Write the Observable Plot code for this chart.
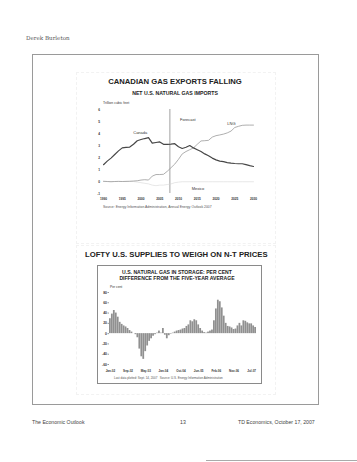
<!DOCTYPE html>
<html><head><meta charset="utf-8">
<script src="https://cdn.jsdelivr.net/npm/d3@7"></script>
<script src="https://cdn.jsdelivr.net/npm/@observablehq/plot@0.6"></script>
<style>
html,body{margin:0;padding:0;background:#fff;}
body{width:357px;height:462px;position:relative;overflow:hidden;font-family:"Liberation Sans",Arial,sans-serif;color:#222;}
.t{position:absolute;white-space:nowrap;line-height:1;}
.c{transform:translateX(-50%);}
.b{font-weight:bold;}
.box{position:absolute;box-sizing:border-box;}
.plot{position:absolute;}
</style></head><body>
<div class="t" style="left:26px;top:36px;font-family:'DejaVu Serif','Liberation Serif',serif;font-size:5.6px;color:#555;">Derek Burleton</div>
<div class="box" style="left:32px;top:54px;width:287px;height:351px;border:1px solid #9a9a9a;"></div>
<div class="box" style="left:76px;top:72px;width:200px;height:172px;border:1px dashed #f2f2f2;"></div>
<div class="box" style="left:76px;top:245px;width:200px;height:150px;border:1px dashed #f2f2f2;"></div>

<div class="t c b" style="left:175px;top:78px;font-size:7.7px;">CANADIAN GAS EXPORTS FALLING</div>
<div class="t c b" style="left:175px;top:91.4px;font-size:5.2px;">NET U.S. NATURAL GAS IMPORTS</div>
<div class="t" style="left:103px;top:102.3px;font-size:3.5px;color:#333;">Trillion cubic feet</div>
<div id="chart1" class="plot" style="left:80px;top:100px;"></div>
<div class="t" style="left:103px;top:206.3px;font-size:3.4px;color:#555;">Source: Energy Information Administration, Annual Energy Outlook 2007</div>

<div class="t b" style="left:85px;top:251px;font-size:7.7px;">LOFTY U.S. SUPPLIES TO WEIGH ON N-T PRICES</div>
<div class="box" style="left:97px;top:265px;width:165px;height:119px;border:1px solid #8a8a8a;"></div>
<div class="t c b" style="left:177px;top:269.5px;font-size:5.1px;">U.S. NATURAL GAS IN STORAGE: PER CENT</div>
<div class="t c b" style="left:177px;top:275.6px;font-size:5.1px;">DIFFERENCE FROM THE FIVE-YEAR AVERAGE</div>
<div class="t" style="left:110px;top:286.3px;font-size:3.3px;color:#333;">Per cent</div>
<div id="chart2" class="plot" style="left:95px;top:285px;"></div>
<div class="t" style="left:114px;top:376.5px;font-size:3px;color:#555;">Last data plotted: Sept. 14, 2007 &nbsp;&nbsp;Source: U.S. Energy Information Administration</div>

<div class="t" style="left:32px;top:420.4px;font-size:5.2px;color:#444;">The Economic Outlook</div>
<div class="t c" style="left:183px;top:420.4px;font-size:5.2px;color:#444;">13</div>
<div class="t" style="left:238px;top:420.4px;font-size:5.2px;color:#444;">TD Economics, October 17, 2007</div>
<div class="box" style="left:206px;top:460px;width:151px;height:1px;background:#aaa;"></div>

<script>
// ---- Chart 1: Net U.S. natural gas imports (trillion cubic feet) ----
const years = [1990,1991,1992,1993,1994,1995,1996,1997,1998,1999,2000,2001,2002,2003,2004,2005,2006,2007,2008,2009,2010,2011,2012,2013,2014,2015,2016,2017,2018,2019,2020,2021,2022,2023,2024,2025,2026,2027,2028,2029,2030];
const canada = [1.4,1.7,1.95,2.25,2.55,2.8,2.85,2.87,3.1,3.4,3.5,3.58,3.65,3.2,3.25,3.3,3.1,3.1,3.12,3.15,2.9,2.75,2.85,3.0,2.8,2.65,2.5,2.3,2.15,1.95,1.8,1.7,1.65,1.58,1.53,1.5,1.48,1.48,1.4,1.32,1.25];
const lng = [0.02,0.0,-0.02,0.0,0.01,0.0,0.01,0.02,0.04,0.06,0.12,0.15,0.12,0.45,0.58,0.58,0.6,0.85,1.15,1.45,1.85,2.3,2.5,2.65,2.8,3.1,3.38,3.4,3.43,3.7,3.82,3.88,3.95,4.05,4.2,4.5,4.6,4.68,4.7,4.7,4.7];
const mexico = [0,0,0,0,0,0,0,0,0,-0.05,-0.1,-0.15,-0.2,-0.3,-0.35,-0.3,-0.3,-0.25,-0.2,-0.1,-0.05,-0.02,-0.02,-0.02,-0.02,-0.02,-0.02,-0.02,-0.02,-0.02,-0.02,-0.02,-0.02,-0.02,-0.02,-0.02,-0.02,-0.02,-0.02,-0.02,-0.02];
const xTicks1 = [1990,1995,2000,2005,2010,2015,2020,2025,2030];
const yTicks1 = [6,5,4,3,2,1,0,-1];
const forecastStart = 2007.7;
const seriesNames = ["Canada","LNG","Mexico","Forecast"];
const labelYears = [1999.8,2024.1,2015.2,2012.5];
const labelValues = [4.1,4.83,-0.61,5.16];

const rows = (vals) => years.map((y, i) => ({year: y, value: vals[i]}));
const labels1 = seriesNames.map((n, i) => ({name: n, year: labelYears[i], value: labelValues[i]}));

const chart1 = Plot.plot({
  width: 190, height: 112,
  marginLeft: 23, marginRight: 17, marginTop: 9, marginBottom: 19,
  style: {fontFamily: "Liberation Sans, Arial, sans-serif", fontSize: "3.2px", color: "#333", background: "transparent", overflow: "visible"},
  x: {domain: [1990, 2030]},
  y: {domain: [-1, 6]},
  marks: [
    Plot.axisX(xTicks1, {tickSize: 0, tickPadding: 4, tickFormat: d => String(d), fontWeight: "bold", label: null}),
    Plot.axisY(yTicks1, {tickSize: 0, tickPadding: 3.5, tickFormat: d => String(d), fontWeight: "bold", label: null}),
    Plot.ruleX([forecastStart], {y1: -1, y2: 6, stroke: "#888", strokeWidth: 0.8}),
    Plot.line(rows(mexico), {x: "year", y: "value", stroke: "#d6d6d6", strokeWidth: 0.6}),
    Plot.line(rows(lng), {x: "year", y: "value", stroke: "#9a9a9a", strokeWidth: 0.8}),
    Plot.line(rows(canada), {x: "year", y: "value", stroke: "#474747", strokeWidth: 1.2}),
    Plot.text(labels1, {x: "year", y: "value", text: "name", fontSize: 4, fill: "#333"})
  ]
});
document.getElementById("chart1").appendChild(chart1);

// ---- Chart 2: U.S. natural gas in storage, % difference from 5-yr average (every 4th week) ----
const storagePct = [29,38,45,40,32,22,18,15,13,10,6,3,0,-2,-8,-30,-45,-50,-35,-24,-15,-10,-5,-2,1,5,1,10,-3,-10,-4,-1,1,3,5,6,7,9,10,14,17,25,23,27,25,17,10,5,2,1,3,5,7,25,48,65,62,50,34,20,14,13,11,8,9,15,20,15,25,24,21,19,19,15,12];
const storageTickIdx = [0,9,18,27,36,45,54,63,72];
const storageTickLabels = ["Jan-02","Sep-02","May-03","Jan-04","Oct-04","Jun-05","Feb-06","Nov-06","Jul-07"];
const yTicks2 = [80,60,40,20,0,-20,-40,-60];

const bars = storagePct.map((v, i) => ({i, v}));
const chart2 = Plot.plot({
  width: 165, height: 92,
  marginLeft: 14, marginRight: 4, marginTop: 7, marginBottom: 13,
  style: {fontFamily: "Liberation Sans, Arial, sans-serif", fontSize: "3px", color: "#333", background: "transparent", overflow: "visible"},
  x: {type: "band", domain: d3.range(storagePct.length), paddingInner: 0.1, paddingOuter: 0},
  y: {domain: [-60, 80]},
  marks: [
    Plot.barY(bars, {x: "i", y: "v", fill: "#909090"}),
    Plot.axisX(storageTickIdx, {tickSize: 0, tickPadding: 5, tickFormat: i => storageTickLabels[storageTickIdx.indexOf(i)], fontWeight: "bold", label: null}),
    Plot.axisY(yTicks2, {tickSize: 1.5, tickPadding: 1, stroke: "#999", tickFormat: d => String(d), fontSize: 3.4, fontWeight: "bold", label: null})
  ]
});
document.getElementById("chart2").appendChild(chart2);
</script>
</body></html>
